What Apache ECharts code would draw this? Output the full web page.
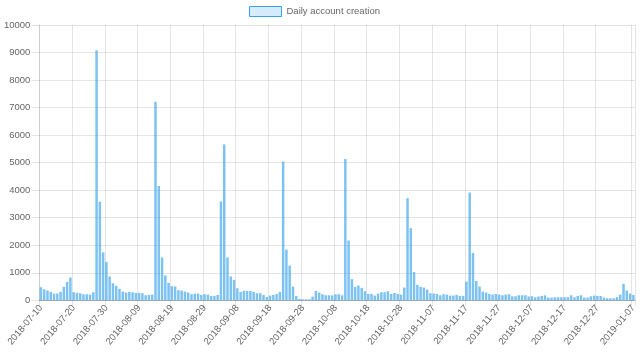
<!DOCTYPE html>
<html>
<head>
<meta charset="utf-8">
<script src="https://cdn.jsdelivr.net/npm/echarts@6/dist/echarts.min.js"></script>
<style>
html,body{margin:0;padding:0;background:#fff;}
#chart{width:640px;height:361px;}
</style>
</head>
<body>
<div id="chart"></div>
<script>
const seriesName = 'Daily account creation';
const startDate = '2018-07-10';
const dailyAccounts = [
  475, 400, 355, 305, 245, 245, 305, 490, 670, 830,
  295, 270, 255, 220, 220, 210, 295, 9080, 3580, 1740,
  1390, 865, 620, 525, 415, 317, 280, 305, 293, 268,
  268, 256, 183, 195, 207, 7210, 4150, 1560, 902, 634,
  512, 500, 366, 354, 317, 280, 220, 244, 244, 195,
  220, 207, 160, 160, 195, 3590, 5660, 1560, 866, 744,
  439, 305, 341, 341, 341, 305, 256, 256, 195, 122,
  171, 195, 232, 305, 5040, 1840, 1260, 500, 160, 50,
  37, 37, 37, 134, 341, 280, 220, 183, 183, 180,
  220, 220, 183, 5130, 2170, 768, 488, 537, 451, 329,
  232, 232, 171, 244, 293, 293, 329, 232, 268, 232,
  207, 463, 3710, 2620, 1024, 561, 488, 463, 390, 256,
  244, 232, 183, 220, 207, 171, 171, 195, 159, 159,
  683, 3913, 1720, 700, 500, 317, 280, 232, 207, 232,
  207, 183, 207, 220, 146, 146, 183, 183, 183, 140,
  146, 110, 134, 159, 183, 98, 98, 110, 110, 110,
  110, 122, 183, 110, 159, 183, 98, 98, 146, 171,
  159, 159, 98, 73, 73, 73, 122, 207, 598, 354,
  244, 195
];
const yTicks = { min: 0, max: 10000, interval: 1000 };

// categories: consecutive days from startDate
const categories = [];
(function () {
  const d0 = new Date(startDate + 'T00:00:00Z');
  for (let i = 0; i < dailyAccounts.length; i++) {
    const d = new Date(d0.getTime() + i * 86400000);
    categories.push(d.toISOString().slice(0, 10));
  }
})();
const lastIdx = categories.length - 1;
const showLabel = (i) => (i % 10 === 0 && lastIdx - i >= 2) || i === lastIdx;

const FONT = '"Liberation Sans", Arial, Helvetica, sans-serif';
const chart = echarts.init(document.getElementById('chart'), null, { renderer: 'canvas' });
chart.setOption({
  animation: false,
  backgroundColor: '#ffffff',
  legend: {
    top: 6,
    left: 249,
    padding: 0,
    icon: 'rect',
    itemWidth: 32,
    itemHeight: 10,
    itemGap: 10,
    textStyle: { color: '#666', fontSize: 9.5, fontFamily: FONT },
    data: [{
      name: seriesName,
      itemStyle: { color: 'rgba(54,162,235,0.2)', borderColor: 'rgb(54,162,235)', borderWidth: 1 }
    }]
  },
  grid: { left: 39.3, right: 5, top: 25, bottom: 60.7, containLabel: false },
  xAxis: {
    type: 'category',
    data: categories,
    boundaryGap: true,
    axisLine: { show: true, lineStyle: { color: 'rgba(0,0,0,0.25)', width: 1 } },
    axisTick: { show: true, interval: (i) => showLabel(i), length: 6, lineStyle: { color: 'rgba(0,0,0,0.1)' } },
    axisLabel: {
      interval: (i) => showLabel(i),
      rotate: 50,
      color: '#666',
      fontSize: 9.5,
      fontFamily: FONT,
      margin: 6
    },
    splitLine: { show: true, interval: (i) => showLabel(i), lineStyle: { color: 'rgba(0,0,0,0.1)', width: 1 } }
  },
  yAxis: {
    type: 'value',
    min: yTicks.min,
    max: yTicks.max,
    interval: yTicks.interval,
    axisLine: { show: true, lineStyle: { color: 'rgba(0,0,0,0.1)' } },
    axisTick: { show: true, length: 8, lineStyle: { color: 'rgba(0,0,0,0.1)' } },
    axisLabel: { color: '#666', fontSize: 9.5, fontFamily: FONT, margin: 9, formatter: (v) => String(v) },
    splitLine: { show: true, lineStyle: { color: 'rgba(0,0,0,0.1)', width: 1 } }
  },
  series: [{
    name: seriesName,
    type: 'bar',
    data: dailyAccounts,
    barCategoryGap: '24%',
    itemStyle: { color: 'rgba(54,162,235,0.65)', borderColor: 'rgba(54,162,235,0.9)', borderWidth: 0 }
  }]
});
</script>
</body>
</html>
